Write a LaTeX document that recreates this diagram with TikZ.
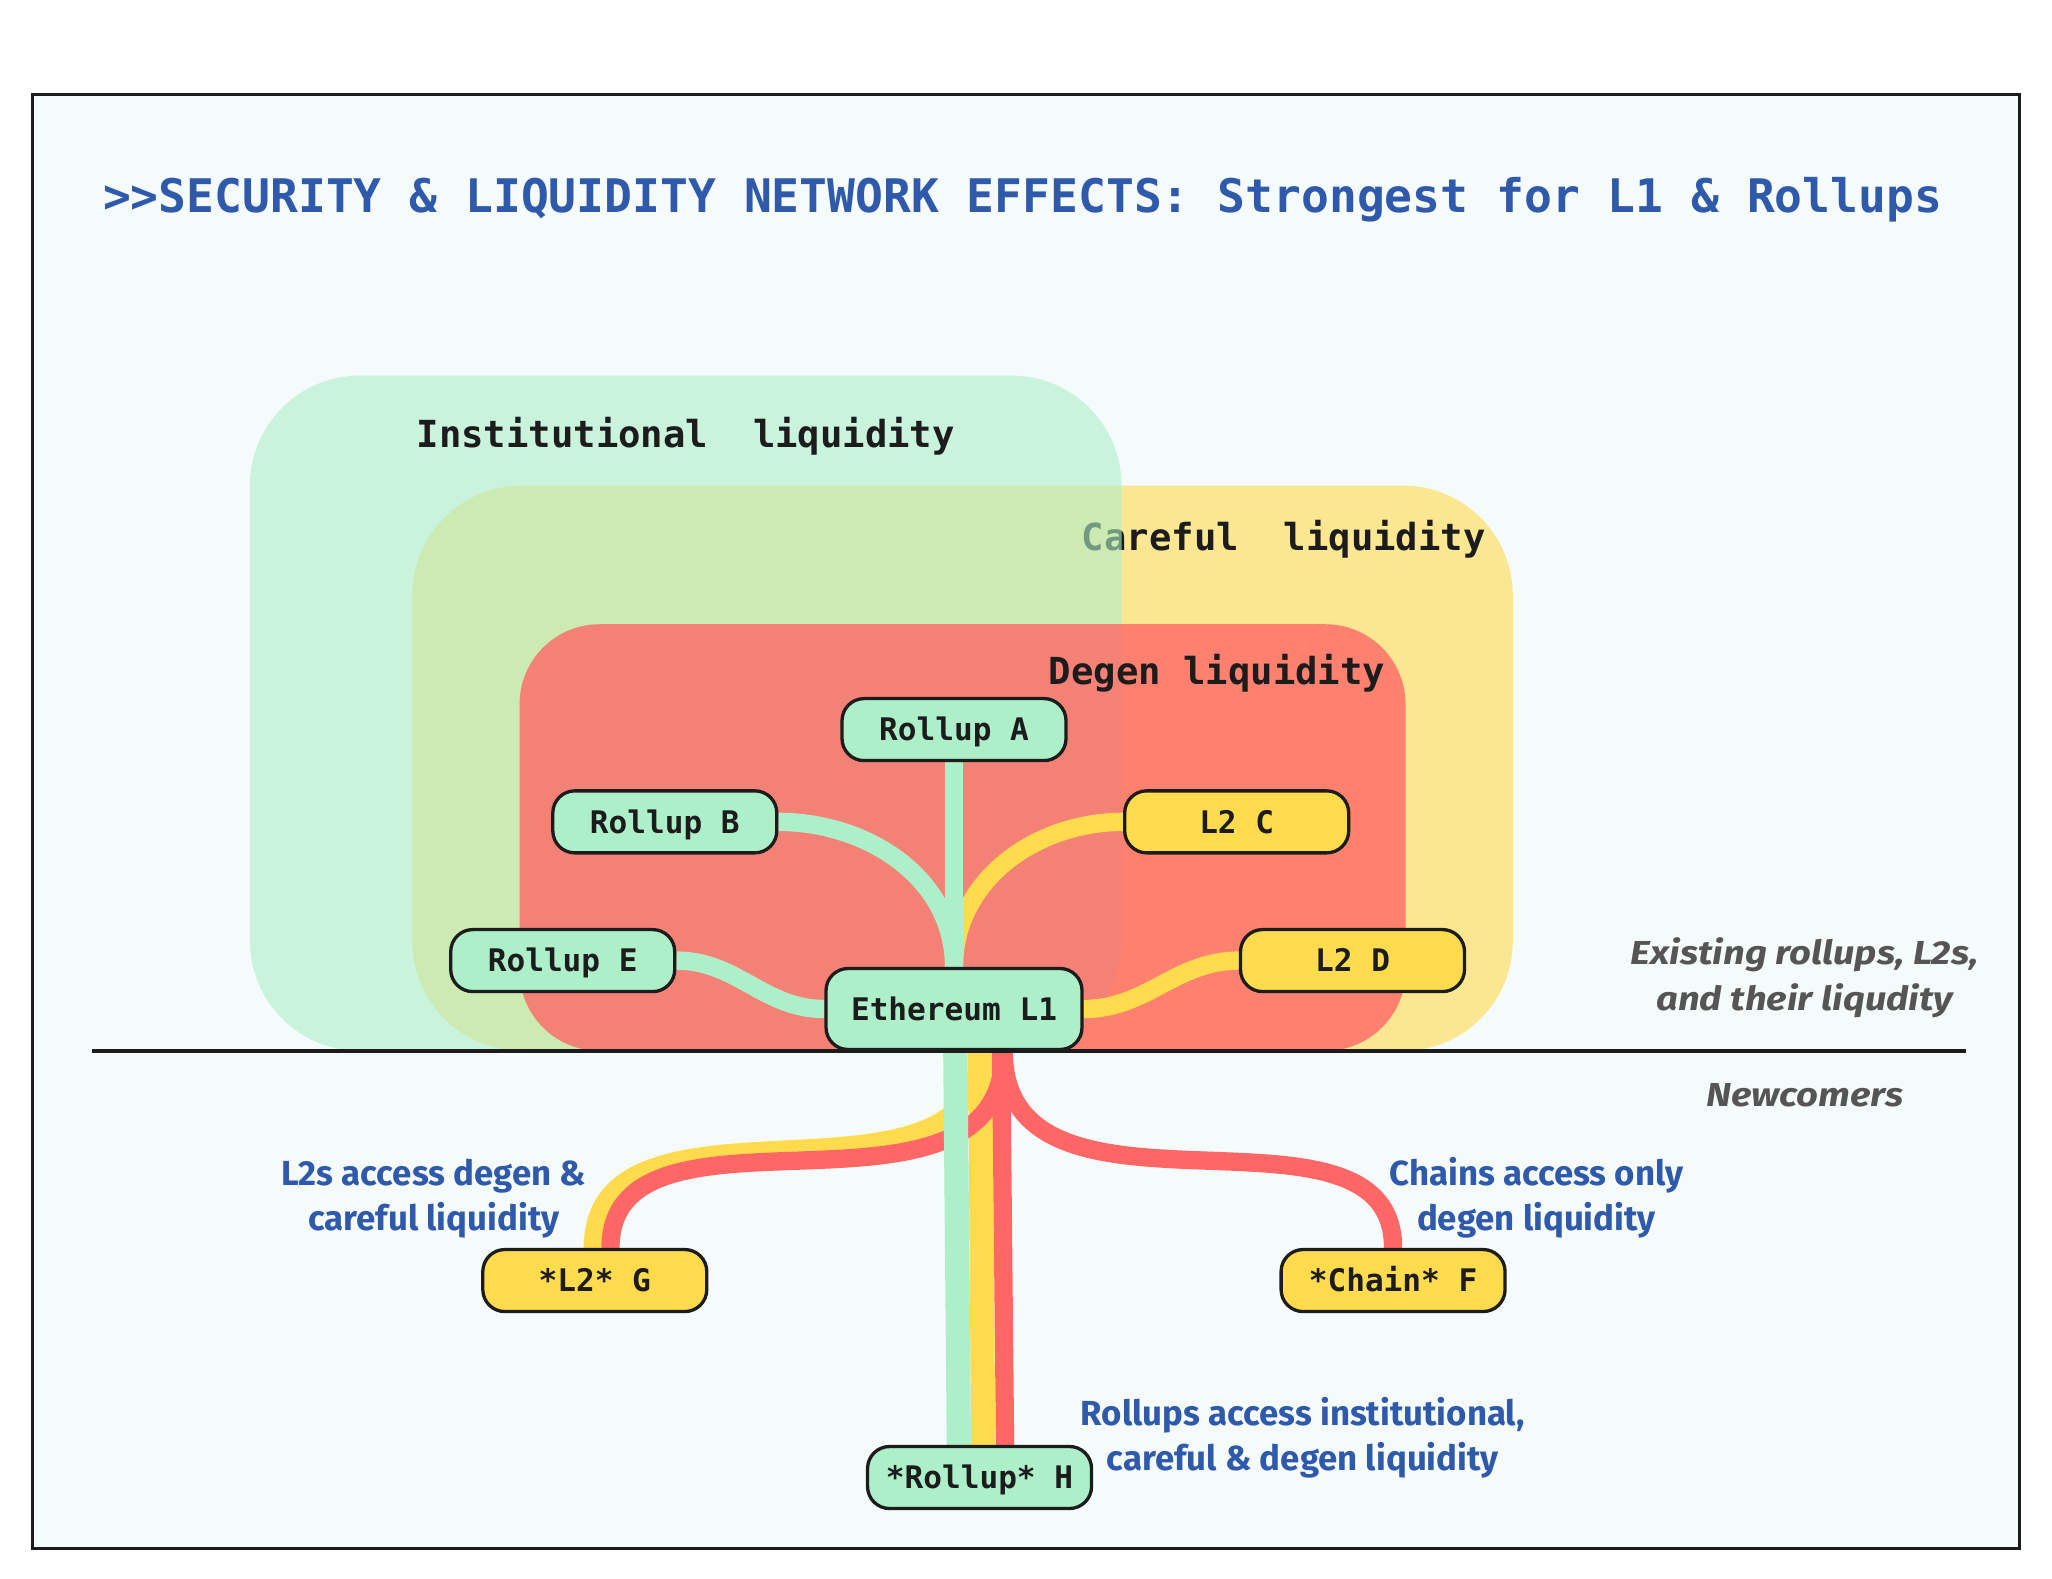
\documentclass[tikz,border=0pt]{standalone}
\usepackage{fontspec}
\usetikzlibrary{calc}
\newfontfamily\codefont{DejaVu Sans Mono}
\newfontfamily\notefont{Fira Sans}
\newfontfamily\sidefont{Fira Sans}[FakeStretch=1.15]
\definecolor{mint}{RGB}{172,239,200}
\definecolor{sun}{RGB}{255,219,77}
\definecolor{coral}{RGB}{255,103,103}
\definecolor{paper}{RGB}{245,251,250}
\definecolor{ink}{RGB}{28,28,28}
\definecolor{titleblue}{RGB}{47,89,170}
\definecolor{notegray}{RGB}{85,85,85}
\pgfdeclarelayer{pools}
\pgfdeclarelayer{links}
\pgfsetlayers{pools,links,main}
\tikzset{
  chain/.style={draw=ink, line width=0.33mm, rounded corners=2.2mm, inner sep=0pt,
    minimum width=22.4mm, minimum height=6.2mm, text height=2.27mm, text depth=0mm,
    text=ink, font=\codefont\bfseries\fontsize{8.85}{10.6}\selectfont},
  rollupbox/.style={chain, fill=mint},
  l2box/.style={chain, fill=sun},
  pooltext/.style={anchor=base, text=ink, inner sep=0pt,
    font=\codefont\bfseries\fontsize{10.6}{12.7}\selectfont},
  link/.style={line width=1.83mm},
  trunk/.style={line width=2.43mm},
  note/.style={anchor=base, align=center, text=titleblue, inner sep=0pt,
    font=\notefont\bfseries\fontsize{9.9}{12.8}\selectfont},
  side/.style={anchor=base, align=center, text=notegray, inner sep=0pt,
    font=\sidefont\bfseries\itshape\fontsize{9.45}{13.1}\selectfont}
}

\begin{document}
\begin{tikzpicture}[x=0.13087mm, y=-0.13087mm]
		%%%%% START %%%%%
		\useasboundingbox (0,0) rectangle (1568,1206);
		
		\begin{pgfonlayer}{pools}
		\fill[white] (0,0) rectangle (1568,1206);
		\fill[paper] (25,72) rectangle (1543,1183);
		
		\fill[sun, opacity=0.6, rounded corners=11mm] (315,371) rectangle (1156,803);
		\node[pooltext] (careful) at (981,420.8) {Careful\ \ liquidity};
		
		\fill[mint, opacity=0.6, rounded corners=11mm] (191,287) rectangle (857,803);
		\node[pooltext] (institutional) at (524,341.8) {Institutional\ \ liquidity};
		
		\fill[coral, opacity=0.8, rounded corners=8mm] (397,477) rectangle (1074,803);
		\node[pooltext] (degen) at (930,522.7) {Degen liquidity};
		\end{pgfonlayer}
		
		\draw[line width=0.3mm, color=ink] (25,72) rectangle (1543,1183);
		
		\node[anchor=base, text=titleblue, font=\codefont\bfseries\fontsize{13.17}{15.8}\selectfont] (title) at (781.5,162.5)
			{>>SECURITY \& LIQUIDITY NETWORK EFFECTS: Strongest for L1 \& Rollups};
		
		% chains above the line
		\node[rollupbox] (ra) at (729,557.5) {Rollup A};
		\node[rollupbox] (rb) at (508,628) {Rollup B};
		\node[l2box] (lc) at (945,628) {L2 C};
		\node[rollupbox] (re) at (430,734) {Rollup E};
		\node[l2box] (ld) at (1033.5,734) {L2 D};
		\node[rollupbox, minimum width=25.6mm, minimum height=8.1mm] (eth) at (729,771) {Ethereum L1};
		
		\draw[line width=0.33mm, color=ink] (70,803) -- (1502,803);
		
		% newcomers
		\node[l2box] (lg) at (454.5,978.5) {*L2* G};
		\node[l2box] (cf) at (1064.5,978.5) {*Chain* F};
		\node[rollupbox] (rh) at (748.5,1129) {*Rollup* H};
		
		\node[side] (existing) at (1379,771.8) {Existing rollups, L2s,\\and their liqudity};
		\node[side] (newcomers) at (1379,845.6) {Newcomers};
		
		\node[note] (noteG) at (331.5,940) {L2s access degen \&\\careful liquidity};
		\node[note] (noteF) at (1174,940) {Chains access only\\degen liquidity};
		\node[note] (noteH) at (995.5,1123.3) {Rollups access institutional,\\careful \& degen liquidity};
		
		\begin{pgfonlayer}{links}
		\draw[link, sun] (lc.west) to[out=180, in=90] (eth.north);
		\draw[link, sun] (ld.west) to[out=180, in=0] (eth.east);
		\draw[link, mint] (ra.south) -- (eth.north);
		\draw[link, mint] (rb.east) to[out=0, in=90] (eth.north);
		\draw[link, mint] (re.east) to[out=0, in=180] (eth.west);
		
		\draw[trunk, sun] ($(eth.south)+(20,0)$) -- ($(rh.north)+(2.8,0)$);
		\draw[link, sun] ($(eth.south)+(19,0)$) .. controls +(0,135) and +(0,-135) .. ($(lg.north)+(-1.5,0)$);
		\draw[link, coral] ($(eth.south)+(38,0)$) .. controls +(0,150) and +(0,-128) .. ($(lg.north)+(12,0)$);
		\draw[link, coral] ($(eth.south)+(36,0)$) -- ($(rh.north)+(19.5,0)$);
		\draw[link, coral] ($(eth.south)+(38,0)$) .. controls +(0,150) and +(0,-128) .. (cf.north);
		\draw[trunk, mint] ($(eth.south)+(1,0)$) -- ($(rh.north)+(-15.8,0)$);
		\end{pgfonlayer}
		
		%%%%% END %%%%%
\end{tikzpicture}
\end{document}
